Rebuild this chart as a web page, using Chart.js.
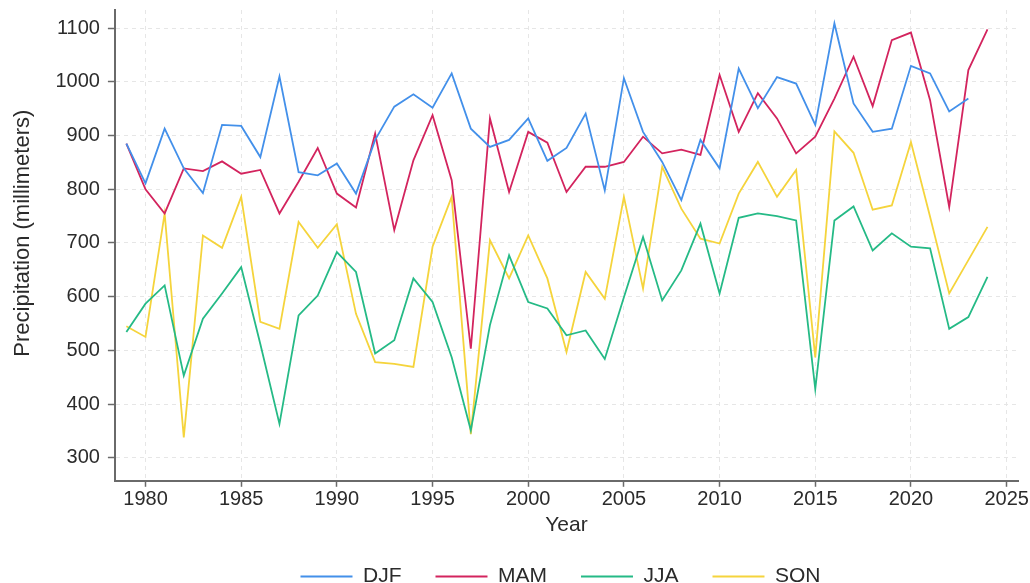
<!DOCTYPE html>
<html>
<head>
<meta charset="utf-8">
<script src="https://cdn.jsdelivr.net/npm/chart.js@4"></script>
<style>
  html, body { margin: 0; padding: 0; background: #fff; }
  #wrap { width: 1030px; height: 583px; }
</style>
</head>
<body>
<div id="wrap"><canvas id="precipChart" width="1030" height="583"></canvas></div>
<script>
// Seasonal precipitation by year
const years = [1979, 1980, 1981, 1982, 1983, 1984, 1985, 1986, 1987, 1988, 1989,
  1990, 1991, 1992, 1993, 1994, 1995, 1996, 1997, 1998, 1999,
  2000, 2001, 2002, 2003, 2004, 2005, 2006, 2007, 2008, 2009,
  2010, 2011, 2012, 2013, 2014, 2015, 2016, 2017, 2018, 2019,
  2020, 2021, 2022, 2023, 2024];

const djf = [885, 811, 913, 839, 793, 920, 918, 860, 1010, 832, 826,
  848, 792, 892, 954, 977, 952, 1016, 913, 879, 892,
  932, 853, 877, 941, 798, 1007, 907, 851, 780, 892,
  839, 1025, 951, 1009, 997, 920, 1109, 960, 907, 913,
  1030, 1016, 945, 969, null];

const mam = [885, 800, 755, 839, 834, 852, 829, 836, 755, 814, 877,
  792, 766, 904, 724, 854, 938, 817, 503, 932, 795,
  907, 887, 795, 842, 842, 851, 898, 867, 874, 864,
  1013, 907, 979, 932, 867, 898, 969, 1047, 955, 1078,
  1092, 966, 767, 1022, 1098];

const jja = [534, 587, 621, 453, 559, 606, 655, 512, 363, 565, 602,
  683, 646, 494, 519, 634, 590, 487, 351, 547, 677,
  590, 578, 528, 537, 484, 599, 711, 593, 649, 736,
  606, 747, 755, 750, 742, 428, 742, 768, 686, 718,
  693, 690, 540, 562, 637];

const son = [545, 525, 755, 338, 714, 691, 786, 553, 540, 739, 691,
  735, 568, 478, 475, 469, 693, 786, 344, 705, 634,
  714, 634, 497, 646, 596, 786, 615, 842, 764, 708,
  699, 792, 851, 786, 836, 487, 908, 868, 762, 770,
  888, 749, 606, 668, 730];

const xTicks = [1980, 1985, 1990, 1995, 2000, 2005, 2010, 2015, 2020, 2025];
const yTicks = [300, 400, 500, 600, 700, 800, 900, 1000, 1100];

function toPoints(vals) {
  return years.map((yr, i) => ({ x: yr, y: vals[i] }));
}

function series(label, vals, color) {
  return {
    label: label,
    data: toPoints(vals),
    borderColor: color,
    backgroundColor: color,
    borderWidth: 1.8,
    pointRadius: 0,
    pointStyle: 'line',
    tension: 0,
    spanGaps: false
  };
}

const fontFam = '"Liberation Sans", Arial, sans-serif';
const textColor = '#2b2b2b';
const axisColor = '#6a6a6a';
const gridColor = '#e6e6e6';

// legend sits roughly centred under the plot area, not the whole canvas
const legendShift = {
  id: 'legendShift',
  afterLayout(chart) {
    const lg = chart.legend;
    if (!lg) return;
    const dx = (chart.chartArea.left + chart.chartArea.right) / 2 - (lg.left + lg.right) / 2 - 6;
    lg.left += dx;
    lg.right += dx;
  }
};

const ctx = document.getElementById('precipChart').getContext('2d');
new Chart(ctx, {
  type: 'line',
  data: {
    datasets: [
      series('DJF', djf, '#4390ea'),
      series('MAM', mam, '#d3245e'),
      series('JJA', jja, '#25ba86'),
      series('SON', son, '#f5d43c')
    ]
  },
  plugins: [legendShift],
  options: {
    responsive: false,
    animation: false,
    layout: { padding: { top: 10, right: 10, left: 10, bottom: -14 } },
    plugins: {
      legend: {
        position: 'bottom',
        labels: {
          usePointStyle: true,
          pointStyleWidth: 52,
          boxHeight: 2,
          padding: 34,
          color: textColor,
          font: { family: fontFam, size: 21 }
        }
      },
      tooltip: { enabled: false }
    },
    scales: {
      x: {
        type: 'linear',
        min: 1978.4,
        max: 2025.6,
        afterBuildTicks: (axis) => { axis.ticks = xTicks.map(v => ({ value: v })); },
        ticks: {
          color: textColor,
          font: { family: fontFam, size: 20 },
          padding: 1,
          callback: (v) => String(v)
        },
        grid: {
          color: gridColor,
          tickBorderDash: [],
          tickColor: axisColor,
          tickLength: 6,
          tickWidth: 1.5
        },
        border: { color: axisColor, width: 2, dash: [4, 4] },
        title: {
          display: true,
          text: 'Year',
          color: textColor,
          font: { family: fontFam, size: 21 },
          padding: { top: 0, bottom: -6 }
        }
      },
      y: {
        min: 257,
        max: 1134,
        afterBuildTicks: (axis) => { axis.ticks = yTicks.map(v => ({ value: v })); },
        afterFit: (axis) => { axis.paddingTop = 0; },
        ticks: {
          color: textColor,
          font: { family: fontFam, size: 20 },
          padding: 8,
          callback: (v) => String(v)
        },
        grid: {
          color: gridColor,
          tickBorderDash: [],
          tickColor: axisColor,
          tickLength: 7,
          tickWidth: 1.5
        },
        border: { color: axisColor, width: 2, dash: [4, 4] },
        title: {
          display: true,
          // leading nbsp nudges the rotated title a little above centre, as in the source
          text: '\u00a0\u00a0\u00a0\u00a0Precipitation (millimeters)',
          color: textColor,
          font: { family: fontFam, size: 22 },
          padding: { top: 0, bottom: 11 }
        }
      }
    }
  }
});
</script>
</body>
</html>
